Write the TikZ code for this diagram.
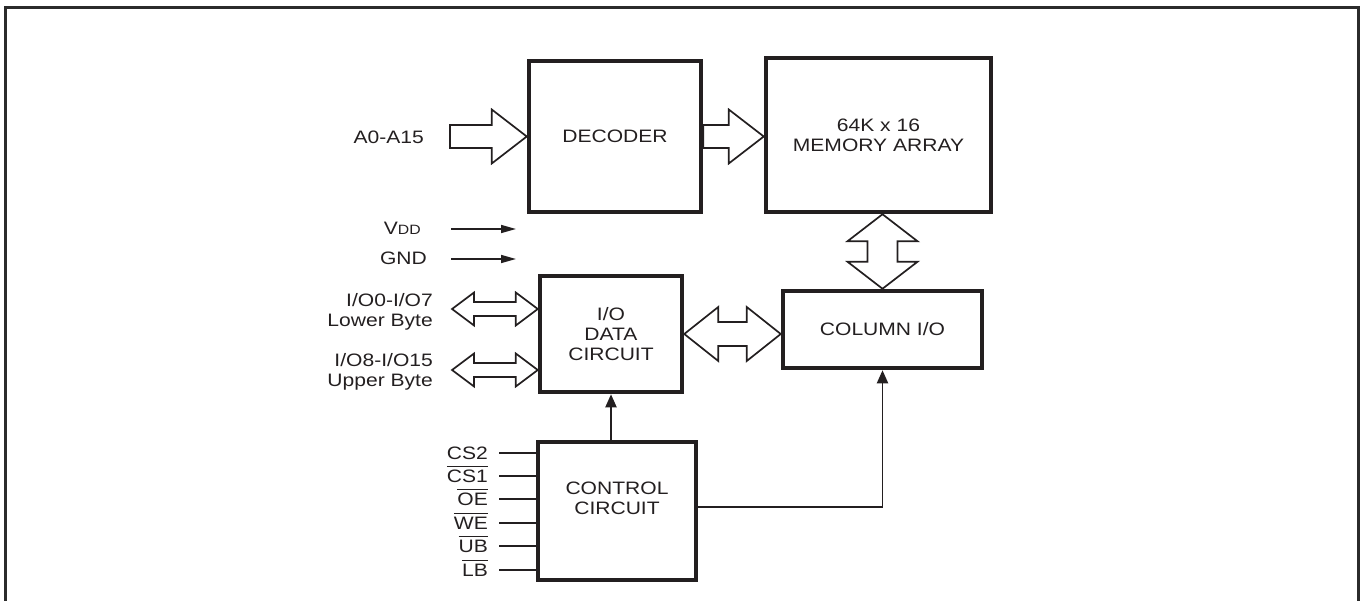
\documentclass[tikz,border=0pt]{standalone}
\usepackage{fontspec}
\setmainfont{Liberation Sans}[FakeStretch=1.17]
\usetikzlibrary{calc,arrows.meta}
\definecolor{ink}{HTML}{231F20}
\definecolor{frame}{HTML}{2B2B2B}
\newcommand\fs{\fontsize{18}{20}\selectfont}
\newcommand\ovl[1]{\setbox0\hbox{#1}\rlap{\rule[15.3pt]{\wd0}{1.4pt}}\box0}
\tikzset{
  box/.style={draw=ink, line width=4.5pt, inner sep=0pt, align=center, text=ink, font=\fs},
  lab/.style={text=ink, inner sep=0pt, font=\fs, align=right},
  hollow/.style={draw=ink, line width=1.7pt, fill=white, line join=miter},
  sig/.style={draw=ink, line width=1.9pt},
  smalltip/.style={-{Triangle[length=15pt,width=8pt]}},
  bigtip/.style={-{Triangle[length=13pt,width=11pt]}},
}
% single fat arrow: #1 tail, #2 tip, shaft half, head half, head length
\newcommand\fatR[5]{%
  \draw[hollow] let \p1=(#1), \p2=(#2) in
    (\x1,\y1+#3pt) -- (\x2-#5pt,\y1+#3pt) -- (\x2-#5pt,\y1+#4pt) -- (\x2,\y1)
    -- (\x2-#5pt,\y1-#4pt) -- (\x2-#5pt,\y1-#3pt) -- (\x1,\y1-#3pt) -- cycle;}
% horizontal double arrow
\newcommand\dblH[5]{%
  \draw[hollow] let \p1=(#1), \p2=(#2) in
    (\x1,\y1) -- (\x1+#5pt,\y1+#4pt) -- (\x1+#5pt,\y1+#3pt) -- (\x2-#5pt,\y1+#3pt)
    -- (\x2-#5pt,\y1+#4pt) -- (\x2,\y1) -- (\x2-#5pt,\y1-#4pt) -- (\x2-#5pt,\y1-#3pt)
    -- (\x1+#5pt,\y1-#3pt) -- (\x1+#5pt,\y1-#4pt) -- cycle;}
% vertical double arrow: #1 top tip, #2 bottom tip
\newcommand\dblV[5]{%
  \draw[hollow] let \p1=(#1), \p2=(#2) in
    (\x1,\y1) -- (\x1+#4pt,\y1-#5pt) -- (\x1+#3pt,\y1-#5pt) -- (\x1+#3pt,\y2+#5pt)
    -- (\x1+#4pt,\y2+#5pt) -- (\x1,\y2) -- (\x1-#4pt,\y2+#5pt) -- (\x1-#3pt,\y2+#5pt)
    -- (\x1-#3pt,\y1-#5pt) -- (\x1-#4pt,\y1-#5pt) -- cycle;}
\begin{document}
\begin{tikzpicture}[x=1pt,y=-1pt]
\useasboundingbox (0,0) rectangle (1362,601);
% outer frame
\draw[frame, line width=3pt] (5,601) -- (5,8) -- (1358,8) -- (1358,601);

% blocks
\node[box, minimum width=172pt, minimum height=151pt] (dec) at (615,136.5) {DECODER};
\node[box, minimum width=225pt, minimum height=154pt] (mem) at (878.5,135) {64K x 16\\MEMORY ARRAY};
\node[box, minimum width=142pt, minimum height=116pt] (iod) at (611,334) {I/O\\DATA\\CIRCUIT};
\node[box, minimum width=199pt, minimum height=77pt] (col) at (882.5,329.5) {COLUMN I/O};
\node[box, minimum width=158pt, minimum height=138pt] (ctrl) at (617,511) {CONTROL\\CIRCUIT\\[6pt]};

% address input
\node[lab, anchor=east] (a0) at (424,137) {A0-A15};
\coordinate (a0t) at (450,136.5);
\fatR{a0t}{dec.west}{11.5}{27}{35}
\fatR{dec.east}{dec.east -| mem.west}{11.5}{27}{35}

% memory <-> column I/O
\dblV{col.north |- mem.south}{col.north}{15}{35}{27}
% I/O data <-> column I/O
\dblH{iod.east}{iod.east -| col.west}{12}{27}{34}

% power
\node[lab, anchor=base east] (vdd) at (421,235) {V{\fontsize{13.5}{14}\selectfont DD}};
\node[lab, anchor=base east] (gnd) at (427,265) {GND};
\coordinate (vdds) at (451,229);
\coordinate (vdde) at (516,229);
\coordinate (gnds) at (451,259);
\coordinate (gnde) at (516,259);
\draw[sig, line width=1.5pt, smalltip] (vdds) -- (vdde);
\draw[sig, line width=1.5pt, smalltip] (gnds) -- (gnde);

% data bytes
\node[lab, anchor=east] (lo) at (433,311.5) {I/O0-I/O7\\Lower Byte};
\node[lab, anchor=east] (up) at (433,371.5) {I/O8-I/O15\\Upper Byte};
\coordinate (lot) at (452,309);
\coordinate (upt) at (452,370);
\dblH{lot}{lot -| iod.west}{7}{16.5}{22}
\dblH{upt}{upt -| iod.west}{7}{16.5}{22}

% control signals
\foreach \yy/\tt/\nn in {453/{CS2}/a, 476/{\ovl{CS1}}/b, 499/{\ovl{OE}}/c,
                          523/{\ovl{WE}}/d, 546/{\ovl{UB}}/e, 570/{\ovl{LB}}/f}{
  \node[lab, anchor=base east] (lab\nn) at (488,{\yy+6.3}) {\tt};
  \coordinate (sig\nn) at (499,\yy);
  \draw[sig] (sig\nn) -- (sig\nn -| ctrl.west);
}

% control outputs
\draw[sig, bigtip] (iod.south |- ctrl.north) -- (iod.south);
\draw[sig, bigtip] ([yshift=4pt]ctrl.east) -| (col.south);
\end{tikzpicture}
\end{document}
